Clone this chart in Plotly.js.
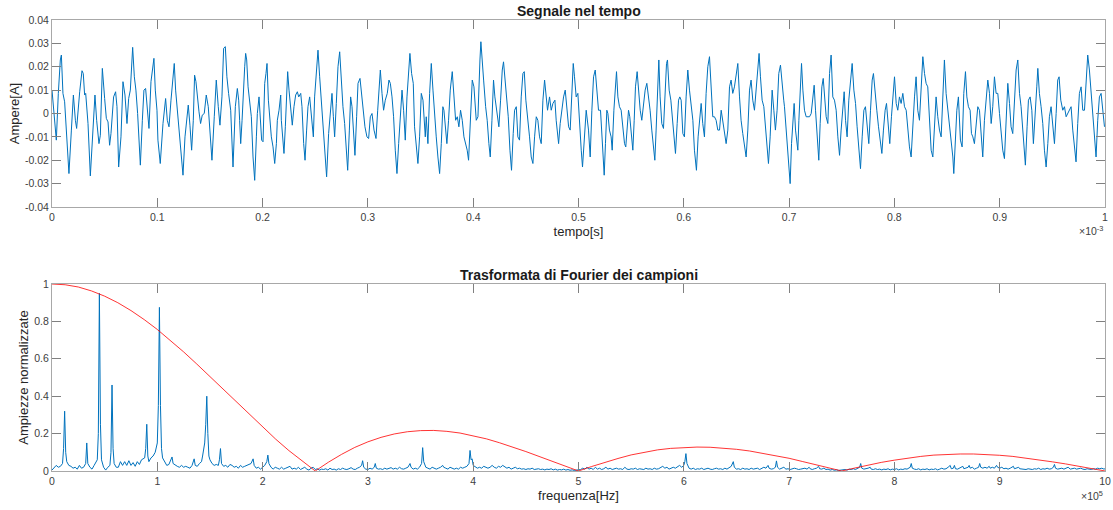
<!DOCTYPE html>
<html>
<head>
<meta charset="utf-8">
<script src="https://cdn.plot.ly/plotly-3.0.1.min.js"></script>
<style>html,body{margin:0;padding:0;background:#fff;}#chart{width:1113px;height:510px;}</style>
</head>
<body>
<div id="chart"></div>
<script>
// ---- time-domain signal: [time (µs), current (A)] ----
const signalPoints = [
[0,0.0100],[2.2,-0.0029],[4.1,-0.0114],[6.0,0.0086],[7.9,0.0229],[8.9,0.0250],[10.4,0.0086],[12.0,0.0050],[13.6,-0.0086],[16.1,-0.0257],[18.4,-0.0071],[20.3,0.0079],[22.2,-0.0029],[23.4,-0.0064],[26.3,0.0093],[28.5,0.0183],[29.7,0.0171],[31.0,0.0079],[32.0,0.0086],[34.2,-0.0043],[36.4,-0.0267],[38.3,-0.0100],[39.6,0.0014],[40.8,0.0079],[42.4,-0.0029],[44.6,-0.0129],[45.9,-0.0093],[47.8,0.0193],[50.0,0.0064],[51.6,-0.0021],[53.2,-0.0036],[54.7,-0.0136],[56.0,-0.0086],[58.5,0.0071],[60.4,0.0093],[61.7,0.0029],[63.3,-0.0229],[65.5,-0.0100],[67.4,0.0136],[69.3,0.0079],[71.2,-0.0043],[72.8,0.0064],[74.4,0.0100],[76.6,0.0283],[78.2,0.0157],[79.7,0.0100],[81.3,0.0000],[83.9,-0.0221],[85.8,-0.0029],[87.3,0.0100],[88.9,0.0107],[90.2,0.0043],[92.1,-0.0064],[94.0,0.0136],[96.8,0.0236],[98.1,0.0100],[99.7,0.0014],[100.6,-0.0114],[102.8,-0.0214],[105.4,-0.0043],[107.9,0.0064],[109.5,-0.0029],[111.1,-0.0057],[113.0,0.0057],[116.1,0.0214],[117.4,0.0100],[119.0,0.0014],[121.2,-0.0114],[124.4,-0.0264],[126.3,-0.0100],[128.2,-0.0014],[129.4,0.0036],[131.0,-0.0050],[132.6,-0.0157],[134.2,-0.0029],[135.4,0.0164],[136.7,0.0136],[138.3,0.0050],[139.6,0.0007],[141.1,-0.0043],[142.7,-0.0007],[144.6,0.0000],[146.5,0.0079],[148.4,0.0029],[150.0,-0.0071],[151.9,-0.0200],[154.1,-0.0014],[156.0,0.0143],[157.9,0.0029],[159.5,-0.0050],[161.4,0.0071],[163.0,0.0279],[164.6,0.0286],[166.1,0.0157],[167.7,0.0086],
[169.7,0.0014],[171.9,-0.0229],[174.1,0.0029],[176.0,0.0107],[177.3,0.0057],[178.2,-0.0029],[179.2,-0.0129],[180.5,-0.0029],[181.7,0.0100],[183.0,0.0200],[183.9,0.0257],[184.9,0.0229],[186.2,0.0114],[187.7,0.0043],[189.3,-0.0014],[190.9,-0.0186],[192.5,-0.0286],[194.1,-0.0100],[195.0,0.0000],[196.6,0.0071],[197.9,-0.0014],[199.1,-0.0114],[200.4,-0.0121],[202.0,0.0129],[203.2,0.0171],[204.2,0.0214],[205.5,0.0057],[207.0,-0.0029],[208.3,-0.0100],[209.9,-0.0143],[211.5,-0.0214],[213.1,-0.0129],[214.0,-0.0029],[215.6,0.0014],[217.2,0.0079],[217.8,-0.0029],[219.1,-0.0129],[220.3,-0.0171],[221.6,-0.0057],[222.9,0.0071],[223.8,0.0179],[225.1,0.0100],[226.7,0.0014],[228.2,-0.0050],[229.8,0.0029],[231.4,0.0079],[233.0,0.0093],[234.3,0.0071],[236.2,0.0086],[237.4,0.0029],[239.0,-0.0129],[240.3,-0.0200],[241.8,-0.0071],[243.1,0.0029],[244.7,0.0071],[246.9,-0.0029],[248.2,-0.0100],[249.4,0.0071],[251.0,0.0157],[252.6,0.0271],[254.2,0.0157],[255.8,0.0057],[257.4,-0.0043],[258.9,-0.0171],[260.8,-0.0271],[262.7,-0.0086],[264.6,0.0029],[265.9,0.0086],[267.2,-0.0014],[268.4,-0.0100],[270.0,0.0043],[271.6,0.0200],[273.2,0.0264],[274.8,0.0114],[276.3,0.0029],[277.9,-0.0043],[279.5,-0.0171],[280.8,-0.0243],[282.4,-0.0071],[283.6,0.0071],[284.9,0.0029],[286.5,-0.0071],[287.7,-0.0179],[289.3,-0.0014],[290.6,0.0129],[292.5,0.0150],[294.1,0.0071],[295.6,0.0014],[297.2,-0.0057],[299.1,-0.0100],[300.7,-0.0107],[302.3,-0.0014],[303.9,0.0000],[305.8,-0.0071],[307.7,-0.0107],[309.3,0.0014],[310.5,0.0129],[311.8,0.0186],[313.4,0.0086],[314.9,0.0014],[316.5,0.0057],[318.4,0.0086],[320.0,0.0143],[321.3,0.0129],[322.9,0.0071],[324.4,-0.0014],[326.0,-0.0157],[327.6,-0.0257],[329.2,-0.0129],[330.8,-0.0014],[332.4,0.0100],[333.9,0.0014],[335.5,-0.0114],[337.1,0.0071],[338.7,0.0186],[339.9,0.0257],[341.5,0.0171],[343.1,0.0129],
[344.3,-0.0057],[345.9,-0.0129],[347.5,-0.0214],[349.1,-0.0100],[350.7,0.0086],[352.3,0.0057],[353.2,-0.0029],[354.5,-0.0100],[355.4,-0.0014],[357.0,-0.0129],[358.6,0.0086],[360.2,0.0214],[361.8,0.0100],[363.3,-0.0014],[364.9,-0.0100],[366.5,-0.0186],[368.1,-0.0257],[369.7,-0.0129],[371.2,0.0029],[372.2,0.0014],[373.5,-0.0071],[375.0,-0.0129],[376.6,-0.0029],[378.2,0.0100],[380.1,0.0179],[381.7,0.0071],[383.3,-0.0029],[384.9,-0.0014],[386.4,-0.0057],[388.0,0.0014],[389.6,-0.0029],[391.2,-0.0100],[392.8,-0.0129],[394.3,-0.0157],[395.6,-0.0200],[397.2,-0.0014],[399.1,0.0143],[400.7,0.0114],[402.9,-0.0029],[404.5,-0.0014],[405.4,0.0157],[406.4,0.0229],[407.3,0.0307],[408.3,0.0229],[409.9,0.0143],[411.8,0.0029],[413.3,-0.0029],[414.9,-0.0129],[416.2,-0.0186],[417.8,-0.0029],[419.3,0.0143],[420.6,0.0071],[422.5,0.0014],[424.4,-0.0057],[426.0,0.0057],[427.6,0.0186],[428.8,0.0221],[430.1,0.0157],[432.0,0.0071],[433.3,-0.0014],[434.9,-0.0157],[436.4,-0.0243],[438.0,-0.0086],[439.3,0.0014],[440.9,0.0029],[442.4,-0.0100],[444.0,-0.0114],[445.6,0.0071],[447.2,0.0171],[448.5,0.0179],[450.0,0.0057],[451.9,-0.0014],[453.5,-0.0100],[455.1,-0.0186],[456.7,-0.0214],[458.3,-0.0100],[459.9,-0.0014],[461.4,-0.0029],[463.0,-0.0100],[464.6,-0.0129],[466.2,0.0057],[467.8,0.0143],[469.0,0.0071],[470.6,0.0014],[472.5,0.0071],[474.1,0.0014],[475.7,0.0043],[477.6,0.0057],[478.8,-0.0029],[481.1,-0.0129],[482.6,-0.0043],[484.2,0.0029],[485.8,0.0071],[487.4,0.0100],[489.0,0.0014],[490.6,-0.0057],[492.1,-0.0071],[493.7,0.0086],[495.0,0.0214],[496.2,0.0157],[497.8,0.0071],[499.4,0.0086],[501.0,-0.0057],[502.6,-0.0157],[503.8,-0.0229],[505.4,-0.0100],[507.3,0.0014],[509.5,-0.0071],[511.1,-0.0186],[512.7,0.0014],[514.3,0.0157],[515.9,0.0186],[517.4,0.0100],[519.0,0.0014],
[520.9,0.0014],[522.2,-0.0100],[523.4,-0.0186],[524.4,-0.0264],[525.6,-0.0129],[526.9,0.0014],[527.9,0.0000],[529.4,-0.0071],[531.0,-0.0100],[532.0,-0.0157],[533.6,0.0014],[534.8,0.0114],[536.1,0.0179],[537.4,0.0071],[538.9,0.0029],[540.5,0.0014],[542.1,-0.0057],[543.7,-0.0129],[544.9,-0.0143],[546.2,-0.0043],[547.5,0.0014],[548.7,-0.0014],[550.0,-0.0071],[551.6,-0.0157],[552.9,-0.0029],[554.1,0.0114],[555.7,0.0179],[557.0,0.0086],[558.6,0.0014],[560.1,-0.0029],[561.7,0.0043],[563.3,0.0100],[564.9,0.0129],[566.5,0.0071],[568.0,0.0014],[569.6,-0.0071],[571.2,-0.0143],[572.5,-0.0200],[573.7,-0.0071],[575.0,0.0100],[576.3,0.0229],[577.5,0.0071],[579.1,-0.0043],[580.7,-0.0064],[582.0,0.0071],[583.6,0.0214],[584.5,0.0229],[586.1,0.0100],[587.7,0.0057],[589.3,-0.0029],[590.8,-0.0129],[592.1,-0.0171],[593.7,-0.0043],[595.0,0.0057],[596.2,0.0071],[597.5,0.0057],[599.1,-0.0086],[600.6,-0.0100],[602.2,0.0071],[603.8,0.0186],[605.4,0.0100],[607.0,0.0043],[608.6,-0.0029],[610.1,-0.0157],[612.0,-0.0243],[613.6,-0.0100],[615.2,-0.0014],[616.5,0.0043],[618.0,-0.0043],[619.6,-0.0100],[621.2,0.0086],[622.8,0.0200],[624.4,0.0243],[626.0,0.0129],[627.5,-0.0014],[629.1,-0.0014],[630.7,-0.0029],[632.3,-0.0071],[633.9,-0.0071],[635.5,0.0014],[637.0,-0.0029],[638.6,-0.0071],[640.2,-0.0129],[641.8,-0.0071],[643.4,0.0114],[644.9,0.0143],[646.5,0.0086],[648.1,0.0114],[649.7,0.0157],[651.3,0.0214],[652.9,0.0071],[654.4,-0.0029],[656.0,-0.0086],[657.6,-0.0129],[659.2,-0.0186],[660.8,-0.0071],[662.4,0.0100],[663.9,0.0143],[665.5,0.0057],[667.1,0.0014],[668.7,0.0100],[670.3,0.0186],[671.5,0.0257],[672.8,0.0157],[674.4,0.0057],[676.0,0.0029],[677.5,-0.0057],[679.1,-0.0171],[680.4,-0.0214],[682.0,-0.0100],[683.9,0.0100],[685.5,0.0014],[687.0,-0.0071],[688.6,0.0014],[690.2,0.0171],[691.8,0.0207],[693.4,0.0114],[694.9,0.0057],
[695.6,0.0029],[697.2,-0.0071],[698.8,-0.0157],[700.4,-0.0271],[701.0,-0.0300],[702.3,-0.0129],[703.6,-0.0014],[704.8,0.0043],[706.1,-0.0071],[707.4,-0.0143],[708.3,-0.0157],[709.3,-0.0029],[710.5,0.0071],[711.8,0.0214],[713.1,0.0100],[714.6,0.0014],[716.2,-0.0014],[717.8,-0.0014],[719.4,-0.0014],[721.0,0.0000],[722.5,0.0086],[723.8,0.0121],[725.1,0.0014],[726.7,-0.0100],[728.2,-0.0200],[729.5,-0.0043],[731.1,0.0114],[732.4,0.0150],[733.6,0.0057],[735.2,-0.0014],[736.8,-0.0043],[738.4,0.0171],[739.9,0.0250],[741.5,0.0071],[743.1,0.0057],[744.7,0.0014],[746.3,-0.0100],[747.9,-0.0179],[749.4,-0.0071],[751.0,0.0043],[752.3,0.0093],[753.6,-0.0029],[755.1,-0.0100],[756.7,0.0057],[758.3,0.0143],[759.9,0.0214],[761.5,0.0100],[763.1,0.0043],[764.6,-0.0057],[766.2,-0.0157],[767.8,-0.0236],[769.4,-0.0100],[771.0,0.0014],[772.5,0.0029],[774.1,-0.0057],[775.7,-0.0129],[777.3,0.0014],[778.9,0.0143],[780.1,0.0171],[781.7,0.0071],[783.3,0.0014],[784.9,-0.0057],[786.5,-0.0129],[788.1,-0.0171],[789.6,-0.0071],[791.2,0.0014],[792.5,0.0043],[794.1,-0.0043],[795.6,-0.0129],[797.2,-0.0014],[798.8,0.0100],[800.1,0.0157],[801.7,0.0043],[803.2,0.0014],[804.8,0.0071],[806.4,0.0043],[808.0,0.0086],[809.6,0.0029],[811.2,0.0014],[812.7,-0.0071],[814.3,-0.0143],[815.9,-0.0186],[817.5,-0.0043],[819.1,0.0071],[820.6,0.0157],[822.2,0.0014],[823.8,-0.0029],[825.4,0.0086],[827.0,0.0243],[828.6,0.0171],[830.1,0.0129],[831.7,0.0114],[833.3,-0.0043],[834.9,-0.0157],[836.5,-0.0186],[838.1,-0.0014],[839.6,0.0071],[841.2,-0.0014],[842.8,-0.0071],[844.4,-0.0100],[846.0,0.0086],[847.5,0.0229],[849.1,0.0086],[850.7,0.0014],[852.3,-0.0029],
[853.9,-0.0129],[855.5,-0.0186],[856.4,-0.0257],[857.7,-0.0100],[859.3,0.0014],[860.8,0.0071],[862.7,-0.0114],[864.3,-0.0143],[865.9,0.0086],[867.5,0.0179],[868.8,0.0071],[870.3,0.0029],[871.9,0.0014],[873.2,-0.0086],[874.5,-0.0100],[876.0,-0.0129],[877.6,-0.0043],[879.2,0.0029],[880.8,0.0014],[882.4,-0.0086],[883.9,-0.0186],[885.5,-0.0029],[887.1,0.0071],[888.7,0.0143],[890.3,0.0086],[891.9,-0.0043],[893.4,0.0029],[895.0,0.0157],[896.6,0.0086],[898.2,0.0086],[899.8,0.0000],[901.4,-0.0100],[902.9,-0.0157],[904.5,-0.0193],[906.1,-0.0014],[907.7,0.0129],[909.3,0.0043],[910.8,-0.0057],[912.4,-0.0086],[914.0,0.0086],[915.6,0.0186],[917.2,0.0229],[918.8,0.0086],[920.3,0.0029],[921.9,-0.0071],[923.5,-0.0186],[924.4,-0.0221],[926.0,-0.0057],[927.3,0.0057],[928.9,0.0071],[930.5,0.0014],[932.0,-0.0129],[933.6,-0.0029],[935.2,0.0114],[936.2,0.0193],[937.7,0.0086],[939.3,0.0029],[940.9,-0.0043],[942.5,-0.0157],[944.1,-0.0229],[945.7,-0.0129],[947.2,-0.0014],[948.8,0.0029],[950.4,-0.0043],[952.0,-0.0129],[953.6,0.0000],[955.1,0.0143],[956.4,0.0157],[958.0,0.0057],[959.9,0.0014],[961.5,0.0029],[963.1,-0.0014],[964.6,0.0000],[966.2,0.0014],[967.8,0.0029],[969.4,-0.0071],[971.0,-0.0157],[972.5,-0.0207],[974.1,-0.0043],[975.7,0.0086],[977.3,0.0114],[978.9,0.0014],[980.5,0.0014],[982.0,0.0114],[983.6,0.0250],[985.2,0.0186],[986.8,0.0100],[988.4,0.0014],[990.0,-0.0100],[991.5,-0.0186],[993.1,-0.0029],[994.7,0.0071],[996.3,0.0086],[997.9,0.0014],[999.5,-0.0057]
];

// ---- spectrum of the samples: [frequency (kHz), normalised amplitude] ----
const spectrumPoints = [
[0,0.005],[2,0.02],[4,0.03],[6,0.02],[8,0.025],[10,0.04],[11,0.12],[12,0.32],[13,0.1],[14,0.05],[16,0.03],[18,0.025],[20,0.015],[22,0.02],[24,0.01],[26,0.03],[28,0.015],[30,0.02],[32,0.04],[33,0.15],[34,0.04],[36,0.02],[38,0.01],[40,0.03],[42,0.05],[43,0.06],[44,0.2],[45,0.95],[46,0.25],[47,0.06],[49,0.02],[51,0.005],[53,0.02],[55,0.03],[56,0.1],[57,0.46],[58,0.12],[59,0.04],[61,0.02],[63,0.02],[65,0.05],[67,0.03],[69,0.05],[71,0.03],[73,0.055],[75,0.03],[77,0.045],[79,0.025],[81,0.05],[83,0.035],[85,0.06],[87,0.065],[88,0.07],[89,0.12],[90,0.25],[91,0.08],[92,0.05],[94,0.07],[96,0.08],[98,0.1],[100,0.15],[101,0.35],[102,0.875],[103,0.35],[104,0.12],[105,0.07],[107,0.05],[109,0.03],[111,0.035],[113,0.06],[114,0.075],[115,0.04],[117,0.03],[119,0.025],[121,0.02],[123,0.03],[125,0.02],[127,0.025],[129,0.02],[131,0.015],[133,0.03],[135,0.065],[136,0.03],[138,0.025],[140,0.04],[142,0.05],[143,0.08],[145,0.15],[146,0.25],[147,0.4],[148,0.2],[149,0.08],[150,0.06],[152,0.04],[154,0.03],[156,0.035],[158,0.03],[159,0.06],[160,0.12],[161,0.04],[163,0.025],[165,0.03],[167,0.02],[169,0.035],[171,0.03],[173,0.02],[175,0.025],[177,0.015],[179,0.03],[181,0.02],[183,0.025],[185,0.03],[187,0.035],[189,0.04],[191,0.065],[192,0.03],[194,0.015],[196,0.02],[198,0.01],[200,0.02],[202,0.03],[204,0.05],[205,0.085],[206,0.04],[208,0.02],[210,0.01],[212,0.02],[214,0.015],[216,0.01],[218,0.02],[220,0.01],[222,0.015],[224,0.02],[226,0.025],[228,0.01],[230,0.015],[232,0.01],[234,0.02],[236,0.008],[238,0.015],[240,0.02],[242,0.01],[244,0.005],[246,0.015],[248,0.02],[250,0.008],[252,0.012],[254,0.005],[256,0.01],[258,0.008],[260,0.012],[262,0.005],[264,0.015],[266,0.008],[268,0.01],[270,0.005],[272,0.012],[274,0.008],[276,0.015],[278,0.01],[280,0.008],[282,0.012],[284,0.018],[286,0.01],[288,0.008],[290,0.015],[292,0.02],[294,0.03],[295,0.055],[296,0.02],[298,0.01],[300,0.008],[302,0.015],[304,0.01],[306,0.02],[307,0.04],[308,0.015],[310,0.01],[312,0.012],[314,0.008],[316,0.015],[318,0.01],[320,0.012],[322,0.018],[324,0.01],[326,0.015],[328,0.01],[330,0.02],[332,0.012],[334,0.01],[336,0.015],[338,0.02],[340,0.04],[341,0.02],[343,0.01],[345,0.015],[347,0.01],[349,0.02],[351,0.04],[352,0.125],[353,0.05],[355,0.02],[357,0.015],[359,0.01],[361,0.02],[363,0.015],[365,0.01],[367,0.015],[369,0.02],[371,0.03],[372,0.02],[374,0.015],[376,0.01],[378,0.02],[380,0.015],[382,0.01],[384,0.015],[386,0.01],[388,0.02],[390,0.015],[392,0.02],[394,0.025],[396,0.04],[397,0.11],[398,0.06],[399,0.065],[400,0.03],[402,0.02],[404,0.015],[406,0.02],[408,0.015],[410,0.025],[412,0.02],[414,0.015],[416,0.02],[418,0.03],[420,0.02],[422,0.015],[424,0.025],[426,0.02],[428,0.03],[430,0.02],[432,0.015],[434,0.02],[436,0.01],[438,0.015],[440,0.02],[442,0.012],[444,0.015],[446,0.01],[448,0.012],[450,0.008],[452,0.012],[454,0.01],[456,0.015],[458,0.008],[460,0.01],[462,0.012],[464,0.008],[466,0.01],[468,0.006],[470,0.01],[472,0.008],[474,0.012],[476,0.006],[478,0.01],[480,0.005],[482,0.008],[484,0.006],[486,0.01],[488,0.005],[490,0.008],[492,0.004],[494,0.006],[496,0.003],[498,0.005],[500,0.003],[502,0.008],[504,0.015],[506,0.01],[508,0.02],[510,0.01],[512,0.015],[514,0.008],[516,0.02],[518,0.01],[520,0.015],[522,0.008],[524,0.012],[526,0.02],[528,0.01],[530,0.015],[532,0.008],[534,0.01],[536,0.015],[538,0.01],[540,0.012],[542,0.008],[544,0.02],[546,0.01],[548,0.008],[550,0.012],[552,0.01],[554,0.015],[556,0.008],[558,0.012],[560,0.01],[562,0.008],[564,0.015],[566,0.01],[568,0.012],[570,0.008],[572,0.015],[574,0.01],[576,0.012],[578,0.02],[580,0.025],[582,0.015],[584,0.02],[586,0.01],[588,0.015],[590,0.02],[592,0.015],[594,0.025],[596,0.03],[598,0.02],[600,0.03],[601,0.05],[602,0.093],[603,0.04],[605,0.015],[607,0.01],[609,0.015],[611,0.008],[613,0.012],[615,0.01],[617,0.015],[619,0.008],[621,0.012],[623,0.015],[625,0.01],[627,0.008],[629,0.012],[631,0.015],[633,0.01],[635,0.012],[637,0.008],[639,0.015],[641,0.01],[643,0.02],[645,0.025],[647,0.05],[648,0.02],[650,0.01],[652,0.012],[654,0.008],[656,0.015],[658,0.01],[660,0.012],[662,0.008],[664,0.015],[666,0.01],[668,0.012],[670,0.015],[672,0.008],[674,0.012],[676,0.02],[678,0.015],[680,0.03],[681,0.015],[683,0.01],[685,0.012],[687,0.02],[688,0.054],[689,0.02],[691,0.01],[693,0.015],[695,0.02],[697,0.01],[699,0.012],[701,0.008],[703,0.01],[705,0.015],[707,0.012],[709,0.008],[711,0.01],[713,0.012],[715,0.015],[717,0.01],[719,0.02],[720,0.012],[722,0.008],[724,0.012],[726,0.015],[728,0.025],[729,0.012],[731,0.01],[733,0.015],[735,0.008],[737,0.01],[739,0.005],[741,0.008],[743,0.004],[745,0.006],[747,0.003],[749,0.005],[751,0.004],[753,0.008],[755,0.005],[757,0.01],[759,0.008],[761,0.012],[763,0.008],[765,0.015],[767,0.02],[768,0.04],[769,0.015],[771,0.01],[773,0.012],[775,0.015],[777,0.02],[778,0.01],[780,0.008],[782,0.012],[784,0.008],[786,0.01],[788,0.006],[790,0.01],[792,0.008],[794,0.012],[796,0.006],[798,0.01],[800,0.008],[802,0.012],[804,0.006],[806,0.01],[808,0.008],[810,0.012],[812,0.01],[814,0.015],[815,0.02],[816,0.04],[817,0.015],[819,0.01],[821,0.008],[823,0.012],[825,0.006],[827,0.01],[829,0.008],[831,0.012],[833,0.006],[835,0.01],[837,0.008],[839,0.012],[841,0.006],[843,0.01],[845,0.015],[847,0.01],[849,0.012],[851,0.02],[853,0.03],[854,0.012],[856,0.015],[857,0.03],[858,0.012],[860,0.01],[862,0.015],[864,0.02],[865,0.025],[866,0.012],[868,0.015],[870,0.02],[871,0.03],[872,0.015],[874,0.02],[876,0.01],[878,0.015],[880,0.02],[881,0.04],[882,0.02],[884,0.015],[886,0.02],[888,0.015],[890,0.025],[891,0.015],[893,0.02],[895,0.015],[897,0.03],[898,0.02],[900,0.015],[902,0.02],[904,0.012],[906,0.015],[908,0.01],[910,0.015],[912,0.02],[913,0.025],[914,0.012],[916,0.015],[918,0.02],[919,0.012],[921,0.01],[923,0.012],[925,0.008],[927,0.012],[929,0.01],[931,0.008],[933,0.012],[935,0.01],[937,0.015],[939,0.008],[941,0.012],[943,0.01],[945,0.015],[947,0.01],[949,0.012],[951,0.02],[952,0.035],[953,0.015],[955,0.01],[957,0.012],[959,0.015],[961,0.01],[963,0.015],[965,0.02],[967,0.01],[969,0.012],[971,0.015],[973,0.01],[975,0.012],[977,0.015],[979,0.01],[981,0.008],[983,0.012],[985,0.01],[987,0.008],[989,0.012],[991,0.01],[993,0.015],[995,0.012],[997,0.015],[999,0.01],[1000,0.012]
];

// ---- red envelope (every 12.5 kHz) ----
const envelopeFreq = [0,12.5,25,37.5,50,62.5,75,87.5,100,112.5,125,137.5,150,162.5,175,187.5,200,212.5,225,237.5,250,
  262.5,275,287.5,300,312.5,325,337.5,350,362.5,375,387.5,400,412.5,425,437.5,450,462.5,475,487.5,500,
  512.5,525,537.5,550,562.5,575,587.5,600,612.5,625,637.5,650,662.5,675,687.5,700,712.5,725,737.5,750,
  762.5,775,787.5,800,812.5,825,837.5,850,862.5,875,887.5,900,912.5,925,937.5,950,962.5,975,987.5,1000];
const envelopeAmp = [1,0.996,0.984,0.963,0.935,0.900,0.858,0.810,0.757,0.699,0.637,0.572,0.505,0.436,0.368,0.300,0.234,0.170,0.109,0.052,0,
  0.047,0.089,0.126,0.156,0.180,0.198,0.210,0.216,0.217,0.212,0.203,0.189,0.172,0.151,0.129,0.104,0.078,0.052,0.026,0,
  0.024,0.047,0.067,0.086,0.100,0.113,0.121,0.126,0.128,0.127,0.123,0.116,0.107,0.095,0.082,0.068,0.051,0.034,0.017,0,
  0.016,0.032,0.046,0.058,0.069,0.078,0.085,0.089,0.091,0.091,0.089,0.084,0.078,0.069,0.060,0.049,0.038,0.025,0.013,0];

// ---- tick labels ----
const timeTickVals = [0,100,200,300,400,500,600,700,800,900,1000];
const timeTickText = ['0','0.1','0.2','0.3','0.4','0.5','0.6','0.7','0.8','0.9','1'];
const ampTickVals = [-0.04,-0.03,-0.02,-0.01,0,0.01,0.02,0.03,0.04];
const ampTickText = ['-0.04','-0.03','-0.02','-0.01','0','0.01','0.02','0.03','0.04'];
const freqTickVals = [0,100,200,300,400,500,600,700,800,900,1000];
const freqTickText = ['0','1','2','3','4','5','6','7','8','9','10'];
const normTickVals = [0,0.2,0.4,0.6,0.8,1];
const normTickText = ['0','0.2','0.4','0.6','0.8','1'];

const BLUE = '#0072BD';
const FONT = 'Liberation Sans, Arial, Helvetica, sans-serif';

const traces = [
  {x: signalPoints.map(p => p[0]), y: signalPoints.map(p => p[1]), type: 'scatter', mode: 'lines',
   line: {color: BLUE, width: 1}, xaxis: 'x', yaxis: 'y', hoverinfo: 'skip'},
  {x: spectrumPoints.map(p => p[0]), y: spectrumPoints.map(p => p[1]), type: 'scatter', mode: 'lines',
   line: {color: BLUE, width: 1}, xaxis: 'x2', yaxis: 'y2', hoverinfo: 'skip'},
  {x: envelopeFreq, y: envelopeAmp, type: 'scatter', mode: 'lines',
   line: {color: '#ff0000', width: 0.8}, xaxis: 'x2', yaxis: 'y2', hoverinfo: 'skip'}
];

const axisCommon = {
  showgrid: false, zeroline: false, showline: true, mirror: 'ticks',
  linecolor: '#a8a8a8', linewidth: 1, ticks: 'inside', ticklen: 9, tickwidth: 1, tickcolor: '#808080',
  tickfont: {family: FONT, size: 10.5, color: '#404040'}, tickmode: 'array'
};
const titleFont = {family: FONT, size: 13, color: '#262626'};

const layout = {
  width: 1113, height: 510,
  margin: {l: 52, r: 8, t: 20, b: 39},
  paper_bgcolor: '#ffffff', plot_bgcolor: '#ffffff',
  showlegend: false,
  font: {family: FONT},
  xaxis: Object.assign({}, axisCommon, {domain: [0, 1], anchor: 'y', range: [0, 1000],
    tickvals: timeTickVals, ticktext: timeTickText,
    title: {text: 'tempo[s]', font: titleFont, standoff: 5}}),
  yaxis: Object.assign({}, axisCommon, {domain: [0.5854, 1], anchor: 'x', range: [-0.04, 0.04],
    tickvals: ampTickVals, ticktext: ampTickText,
    title: {text: 'Ampere[A]', font: titleFont, standoff: 2}}),
  xaxis2: Object.assign({}, axisCommon, {domain: [0, 1], anchor: 'y2', range: [0, 1000],
    tickvals: freqTickVals, ticktext: freqTickText,
    title: {text: 'frequenza[Hz]', font: titleFont, standoff: 5}}),
  yaxis2: Object.assign({}, axisCommon, {domain: [0, 0.4146], anchor: 'x2', range: [0, 1],
    tickvals: normTickVals, ticktext: normTickText,
    title: {text: 'Ampiezze normalizzate', font: titleFont, standoff: 2}}),
  annotations: [
    {text: '<b>Segnale nel tempo</b>', xref: 'paper', yref: 'paper', x: 0.5, y: 1, yshift: 9,
     xanchor: 'center', yanchor: 'middle', showarrow: false, font: {family: FONT, size: 14, color: '#1a1a1a'}},
    {text: '<b>Trasformata di Fourier dei campioni</b>', xref: 'paper', yref: 'paper', x: 0.5, y: 0.4146, yshift: 9,
     xanchor: 'center', yanchor: 'middle', showarrow: false, font: {family: FONT, size: 14, color: '#1a1a1a'}},
    {text: '×10<sup>-3</sup>', xref: 'paper', yref: 'paper', x: 1, y: 0.5854, yshift: -24,
     xanchor: 'right', yanchor: 'middle', showarrow: false, font: {family: FONT, size: 10.5, color: '#404040'}},
    {text: '×10<sup>5</sup>', xref: 'paper', yref: 'paper', x: 1, y: 0, yshift: -24,
     xanchor: 'right', yanchor: 'middle', showarrow: false, font: {family: FONT, size: 10.5, color: '#404040'}}
  ]
};

Plotly.newPlot('chart', traces, layout, {displayModeBar: false, staticPlot: true});
</script>
</body>
</html>
